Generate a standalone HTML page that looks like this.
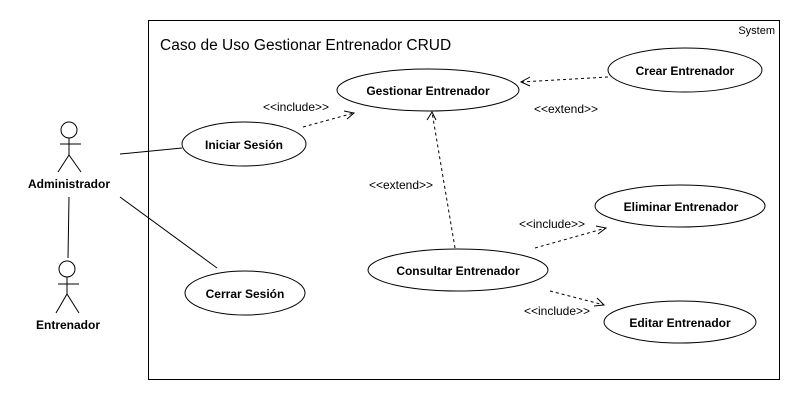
<!DOCTYPE html>
<html><head><meta charset="utf-8"><style>
html,body{margin:0;padding:0;background:#fff;}
svg{display:block;font-family:"Liberation Sans","DejaVu Sans",sans-serif;}
.b{font-weight:bold;font-size:12px;text-anchor:middle;}
.s{font-size:12px;text-anchor:middle;}
</style></head><body>
<svg width="800" height="400" viewBox="0 0 800 400" xmlns="http://www.w3.org/2000/svg">
<rect x="0" y="0" width="800" height="400" fill="#fff"/>
<rect x="148.5" y="20.5" width="631" height="359" fill="none" stroke="#000"/>
<text x="775" y="34" font-size="11" text-anchor="end">System</text>
<text x="160" y="50" font-size="15.5">Caso de Uso Gestionar Entrenador CRUD</text>
<g fill="none" stroke="#000" stroke-width="1">
<ellipse cx="428" cy="90" rx="91" ry="21"/>
<ellipse cx="685" cy="70" rx="77" ry="22"/>
<ellipse cx="244" cy="144" rx="62" ry="22"/>
<ellipse cx="245" cy="293" rx="60" ry="22"/>
<ellipse cx="458" cy="270" rx="90" ry="21"/>
<ellipse cx="680" cy="206" rx="85" ry="21"/>
<ellipse cx="680" cy="322" rx="76" ry="21"/>
<circle cx="69" cy="130" r="8"/>
<line x1="69" y1="138" x2="69" y2="155"/>
<line x1="60" y1="144" x2="81" y2="144"/>
<polyline points="58,172 69,155 81,172"/>
<circle cx="67" cy="269" r="8"/>
<line x1="67" y1="277" x2="67" y2="294"/>
<line x1="58" y1="284" x2="79" y2="284"/>
<polyline points="56,313 67,294 79,313"/>
<line x1="120" y1="154" x2="182" y2="148"/>
<line x1="120" y1="197" x2="217" y2="268"/>
<line x1="69" y1="197" x2="68" y2="258"/>
<g stroke-dasharray="3,3">
<line x1="303" y1="127" x2="354" y2="113"/>
<line x1="608" y1="77" x2="521" y2="82"/>
<line x1="455" y1="248" x2="432" y2="112"/>
<line x1="535" y1="248" x2="606" y2="228"/>
<line x1="550" y1="291" x2="604" y2="305"/>
</g>
<polyline points="344,111 354,113 347,119"/>
<polyline points="530,77 521,82 530,86"/>
<polyline points="427,120 432,112 436,120"/>
<polyline points="596,226 606,228 598,234"/>
<polyline points="597,298 604,305 594,306"/>
</g>
<text class="b" x="428" y="95">Gestionar Entrenador</text>
<text class="b" x="685" y="75">Crear Entrenador</text>
<text class="b" x="244" y="149">Iniciar Sesión</text>
<text class="b" x="245" y="298">Cerrar Sesión</text>
<text class="b" x="458" y="275">Consultar Entrenador</text>
<text class="b" x="681" y="211">Eliminar Entrenador</text>
<text class="b" x="680" y="327">Editar Entrenador</text>
<text class="b" x="69" y="188">Administrador</text>
<text class="b" x="68" y="329">Entrenador</text>
<text class="s" x="296" y="111">&lt;&lt;include&gt;&gt;</text>
<text class="s" x="566" y="113">&lt;&lt;extend&gt;&gt;</text>
<text class="s" x="401" y="189">&lt;&lt;extend&gt;&gt;</text>
<text class="s" x="552" y="228">&lt;&lt;include&gt;&gt;</text>
<text class="s" x="557" y="315">&lt;&lt;include&gt;&gt;</text>
</svg>
</body></html>
